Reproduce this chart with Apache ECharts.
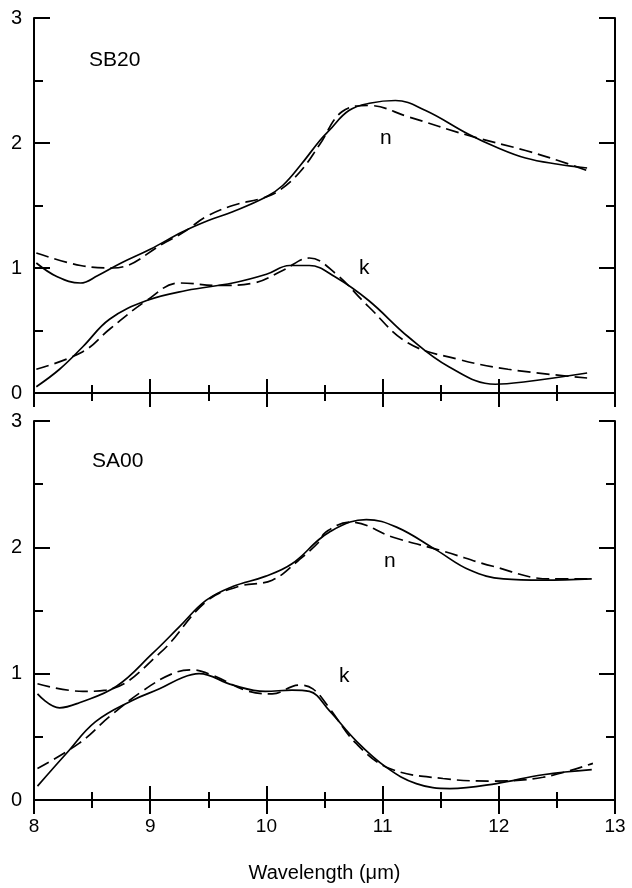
<!DOCTYPE html>
<html>
<head>
<meta charset="utf-8">
<script src="https://cdn.jsdelivr.net/npm/echarts@6/dist/echarts.min.js"></script>
<style>
html, body { margin: 0; padding: 0; background: #fff; }
#chart { width: 632px; height: 888px; }
</style>
</head>
<body>
<div id="chart"></div>
<script>
// x ticks and y ticks
var xTicks = [8, 9, 10, 11, 12, 13];
var yTicks = [0, 1, 2, 3];

// SB20 panel: [wavelength, value]
var sb20N = [[8.02, 1.04], [8.2, 0.93], [8.4, 0.88], [8.55, 0.94], [8.75, 1.04], [9.0, 1.15], [9.28, 1.29], [9.5, 1.38], [9.71, 1.45], [10.0, 1.57], [10.14, 1.66], [10.3, 1.83], [10.46, 2.02], [10.54, 2.1], [10.71, 2.26], [10.9, 2.32], [11.11, 2.34], [11.37, 2.26], [11.74, 2.07], [11.97, 1.97], [12.23, 1.88], [12.51, 1.83], [12.76, 1.8]];
var sb20NFit = [[8.02, 1.12], [8.4, 1.02], [8.68, 1.0], [9.14, 1.21], [9.31, 1.3], [9.48, 1.41], [9.71, 1.5], [9.97, 1.56], [10.11, 1.62], [10.29, 1.77], [10.46, 1.99], [10.65, 2.25], [10.88, 2.3], [11.22, 2.21], [11.74, 2.06], [12.23, 1.94], [12.51, 1.86], [12.76, 1.78]];
var sb20K = [[8.02, 0.05], [8.22, 0.19], [8.42, 0.37], [8.65, 0.59], [8.97, 0.74], [9.31, 0.82], [9.71, 0.88], [10.0, 0.95], [10.2, 1.02], [10.37, 1.02], [10.59, 0.93], [10.88, 0.74], [11.22, 0.45], [11.57, 0.21], [11.97, 0.07], [12.23, 0.09], [12.76, 0.16]];
var sb20KFit = [[8.02, 0.19], [8.42, 0.33], [8.65, 0.51], [8.97, 0.74], [9.25, 0.88], [9.6, 0.86], [9.89, 0.88], [10.14, 0.98], [10.37, 1.08], [10.59, 0.96], [10.88, 0.69], [11.22, 0.4], [11.65, 0.27], [12.08, 0.19], [12.76, 0.12]];

// SA00 panel
var sa00N = [[8.03, 0.84], [8.22, 0.73], [8.39, 0.77], [8.71, 0.9], [9.02, 1.16], [9.25, 1.37], [9.48, 1.58], [9.71, 1.69], [9.99, 1.77], [10.22, 1.87], [10.45, 2.06], [10.54, 2.12], [10.72, 2.2], [10.86, 2.22], [11.12, 2.16], [11.46, 1.98], [11.75, 1.82], [12.04, 1.75], [12.38, 1.74], [12.8, 1.75]];
var sa00NFit = [[8.03, 0.92], [8.42, 0.86], [8.62, 0.87], [9.08, 1.16], [9.48, 1.57], [9.76, 1.69], [10.05, 1.74], [10.28, 1.9], [10.45, 2.04], [10.51, 2.12], [10.72, 2.2], [11.09, 2.08], [11.52, 1.97], [11.95, 1.85], [12.44, 1.75], [12.8, 1.75]];
var sa00K = [[8.03, 0.11], [8.28, 0.37], [8.53, 0.62], [8.85, 0.79], [9.08, 0.88], [9.28, 0.97], [9.42, 1.0], [9.71, 0.91], [9.99, 0.86], [10.22, 0.87], [10.37, 0.86], [10.54, 0.71], [10.77, 0.47], [11.03, 0.26], [11.29, 0.13], [11.58, 0.09], [11.98, 0.13], [12.38, 0.2], [12.8, 0.24]];
var sa00KFit = [[8.03, 0.25], [8.39, 0.45], [8.65, 0.66], [8.93, 0.86], [9.19, 1.0], [9.36, 1.03], [9.53, 0.99], [9.85, 0.86], [10.05, 0.84], [10.28, 0.91], [10.4, 0.88], [10.54, 0.73], [10.77, 0.45], [11.06, 0.25], [11.52, 0.17], [11.95, 0.15], [12.38, 0.18], [12.81, 0.29]];

var FONT = '"Liberation Sans", Arial, sans-serif';
var chart = echarts.init(document.getElementById('chart'));

function xAx(grid, pos, labels, name) {
	return {
		type: 'value', gridIndex: grid, position: pos,
		min: xTicks[0], max: xTicks[xTicks.length - 1], interval: 1,
		axisLine: { show: true, lineStyle: { color: '#000', width: 2 } },
		axisTick: { show: true, inside: true, length: 14, lineStyle: { color: '#000', width: 2 } },
		minorTick: { show: true, splitNumber: 2, length: 8, lineStyle: { color: '#000', width: 2 } },
		splitLine: { show: false },
		axisLabel: { show: labels, margin: 17, color: '#000', fontSize: 19, fontFamily: FONT },
		name: name || '', nameLocation: 'middle', nameGap: 63,
		nameTextStyle: { color: '#000', fontSize: 20, fontFamily: FONT }
	};
}
function yAx(grid, pos, labels) {
	return {
		type: 'value', gridIndex: grid, position: pos,
		min: yTicks[0], max: yTicks[yTicks.length - 1], interval: 1,
		axisLine: { show: true, lineStyle: { color: '#000', width: 2 } },
		axisTick: { show: true, inside: true, length: 16, lineStyle: { color: '#000', width: 2 } },
		minorTick: { show: true, splitNumber: 2, length: 9, lineStyle: { color: '#000', width: 2 } },
		splitLine: { show: false },
		axisLabel: { show: labels, margin: 12, color: '#000', fontSize: 20, fontFamily: FONT }
	};
}
function line(data, axis, dashed) {
	return {
		type: 'line', data: data, xAxisIndex: axis, yAxisIndex: axis,
		smooth: 0.4, symbol: 'none', silent: true,
		lineStyle: { color: '#000', width: 1.7, type: dashed ? [13, 6] : 'solid' }
	};
}
function txt(x, y, s, size) {
	return { type: 'text', left: x, top: y, style: { text: s, fill: '#000', fontSize: size, fontFamily: FONT } };
}

chart.setOption({
	animation: false,
	backgroundColor: '#fff',
	grid: [
		{ left: 34, top: 18, width: 581, height: 375 },
		{ left: 34, top: 421, width: 581, height: 379 }
	],
	xAxis: [
		xAx(0, 'bottom', false), xAx(1, 'bottom', true, 'Wavelength (\u03bcm)'),
		xAx(0, 'top', false), xAx(1, 'top', false)
	],
	yAxis: [
		yAx(0, 'left', true), yAx(1, 'left', true),
		yAx(0, 'right', false), yAx(1, 'right', false)
	],
	series: [
		line(sb20N, 0, false), line(sb20NFit, 0, true),
		line(sb20K, 0, false), line(sb20KFit, 0, true),
		line(sa00N, 1, false), line(sa00NFit, 1, true),
		line(sa00K, 1, false), line(sa00KFit, 1, true)
	],
	graphic: [
		txt(89, 50, 'SB20', 21),
		txt(92, 451, 'SA00', 21),
		txt(380, 128, 'n', 21),
		txt(359, 258, 'k', 21),
		txt(384, 551, 'n', 21),
		txt(339, 666, 'k', 21)
	]
});
</script>
</body>
</html>
